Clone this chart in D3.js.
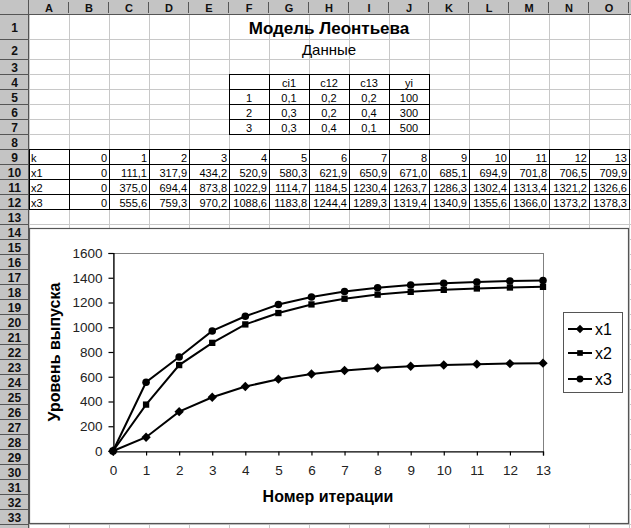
<!DOCTYPE html>
<html><head><meta charset="utf-8">
<script src="https://cdn.jsdelivr.net/npm/d3@7"></script>
<style>html,body{margin:0;padding:0;background:#fff;overflow:hidden}svg{display:block}text{font-family:Arial,"Liberation Sans",sans-serif}</style>
</head><body>
<script>
// ---- data ----
const title = "Модель Леонтьева";
const subtitle = "Данные";
const colLetters = ["A","B","C","D","E","F","G","H","I","J","K","L","M","N","O"];
const coefHeaders = ["ci1","c12","c13","yi"];
const branchNo = [1,2,3];
const ci1 = [0.1,0.3,0.3];
const c12 = [0.2,0.2,0.4];
const c13 = [0.2,0.4,0.1];
const yi = [100,300,500];
const k = [0,1,2,3,4,5,6,7,8,9,10,11,12,13];
const x1 = [0,111.1,317.9,434.2,520.9,580.3,621.9,650.9,671.0,685.1,694.9,701.8,706.5,709.9];
const x2 = [0,375.0,694.4,873.8,1022.9,1114.7,1184.5,1230.4,1263.7,1286.3,1302.4,1313.4,1321.2,1326.6];
const x3 = [0,555.6,759.3,970.2,1088.6,1183.8,1244.4,1289.3,1319.4,1340.9,1355.6,1366.0,1373.2,1378.3];
const seriesNames = ["x1","x2","x3"];
const yTicks = [0,200,400,600,800,1000,1200,1400,1600];
const xTitle = "Номер итерации";
const yTitle = "Уровень выпуска";

// ---- layout ----
const W = 631, H = 528;
const rowHdrW = 29, colW = 40, colHdrH = 15;
const rowH = n => n === 1 ? 25 : n === 2 ? 20 : 15;
const rowTop = n => { let y = colHdrH; for (let i = 1; i < n; i++) y += rowH(i); return y; };
const colLeft = c => rowHdrW + c * colW;
const nRows = 34, nLabeledRows = 33;

const loc = d3.formatLocale({decimal: ",", thousands: "", grouping: [3], currency: ["", ""]});
const f1 = loc.format(".1f");

const svg = d3.select("body").append("svg").attr("width", W).attr("height", H);

// grid lines
const g = svg.append("g");
for (let c = 0; c <= 15; c++)
  g.append("line").attr("x1", colLeft(c)+0.5).attr("x2", colLeft(c)+0.5).attr("y1", colHdrH).attr("y2", H).attr("stroke", "#c8c8c8");
for (let r = 1; r <= nRows; r++)
  g.append("line").attr("x1", rowHdrW).attr("x2", W).attr("y1", rowTop(r)+rowH(r)-0.5).attr("y2", rowTop(r)+rowH(r)-0.5).attr("stroke", "#c8c8c8");

// headers
svg.append("rect").attr("x", 0).attr("y", 0).attr("width", W).attr("height", colHdrH).attr("fill", "#c4c4c4");
svg.append("rect").attr("x", 0).attr("y", 0).attr("width", rowHdrW).attr("height", H).attr("fill", "#c4c4c4");
colLetters.forEach((L, i) => {
  svg.append("line").attr("x1", colLeft(i+1)-0.5).attr("x2", colLeft(i+1)-0.5).attr("y1", 2).attr("y2", colHdrH-2).attr("stroke", "#555");
  svg.append("text").attr("x", colLeft(i) + colW/2).attr("y", colHdrH/2 + 4).attr("text-anchor", "middle")
    .attr("font-size", 11).attr("font-weight", "bold").attr("fill", "#111").text(L);
});
svg.append("line").attr("x1", rowHdrW-0.5).attr("x2", rowHdrW-0.5).attr("y1", 0).attr("y2", H).attr("stroke", "#555");
svg.append("line").attr("x1", 0).attr("x2", W).attr("y1", colHdrH-0.5).attr("y2", colHdrH-0.5).attr("stroke", "#555");
for (let r = 1; r <= nRows; r++) {
  const t = rowTop(r), h = rowH(r);
  svg.append("line").attr("x1", 0).attr("x2", rowHdrW).attr("y1", t+h-0.5).attr("y2", t+h-0.5).attr("stroke", "#555");
  if (r <= nLabeledRows)
    svg.append("text").attr("x", rowHdrW/2).attr("y", t + h/2 + 4.5).attr("text-anchor", "middle")
      .attr("font-size", 12).attr("font-weight", "bold").attr("fill", "#111").text(r);
}

// cell helper
function cell(col, row, txt, align) {
  const x0 = colLeft(col), t = rowTop(row), h = rowH(row);
  const x = align === "left" ? x0 + 2 : align === "center" ? x0 + colW/2 : x0 + colW - 2;
  svg.append("text").attr("x", x).attr("y", t + h/2 + 4).attr("font-size", 11)
    .attr("text-anchor", align === "left" ? "start" : align === "center" ? "middle" : "end").attr("fill", "#000").text(txt);
}
// title
svg.append("text").attr("x", colLeft(5) + 2.5*colW).attr("y", rowTop(1) + 19).attr("text-anchor", "middle")
  .attr("font-size", 17).attr("font-weight", "bold").text(title);
svg.append("text").attr("x", colLeft(5) + 2.5*colW).attr("y", rowTop(2) + 15).attr("text-anchor", "middle")
  .attr("font-size", 15).text(subtitle);

// coefficient table F4:J7
const coefCols = [ci1, c12, c13, yi];
coefHeaders.forEach((hd, i) => cell(6+i, 4, hd, "center"));
branchNo.forEach((b, j) => {
  cell(5, 5+j, b, "center");
  coefCols.forEach((arr, i) => cell(6+i, 5+j, i < 3 ? loc.format(".1f")(arr[j]) : arr[j], "center"));
});
function box(c0, c1, r0, r1) {
  for (let c = c0; c <= c1+1; c++)
    svg.append("line").attr("x1", colLeft(c)+0.5).attr("x2", colLeft(c)+0.5).attr("y1", rowTop(r0)).attr("y2", rowTop(r1+1)).attr("stroke", "#000");
  for (let r = r0; r <= r1+1; r++)
    svg.append("line").attr("x1", colLeft(c0)).attr("x2", colLeft(c1+1)+1).attr("y1", rowTop(r)-0.5).attr("y2", rowTop(r)-0.5).attr("stroke", "#000");
}
box(5, 9, 4, 7);

// iteration table A9:O12
cell(0, 9, "k", "left");
k.forEach((v, i) => cell(1+i, 9, v, "right"));
[x1, x2, x3].forEach((arr, j) => {
  cell(0, 10+j, seriesNames[j], "left");
  arr.forEach((v, i) => cell(1+i, 10+j, i === 0 ? "0" : f1(v), "right"));
});
box(0, 14, 9, 12);

// ---- chart ----
const cx0 = 29, cy0 = 228, cx1 = 628, cy1 = 523;
svg.append("rect").attr("x", cx0+0.5).attr("y", cy0+0.5).attr("width", cx1-cx0).attr("height", cy1-cy0)
  .attr("fill", "#fff").attr("stroke", "#555").attr("stroke-width", 1.2);

const px0 = 113, px1 = 543, py0 = 451, py1 = 253;
const xs = d3.scaleLinear().domain([0, 13]).range([px0, px1]);
const ys = d3.scaleLinear().domain([0, 1600]).range([py0, py1]);

svg.append("rect").attr("x", px0+0.5).attr("y", py1+0.5).attr("width", px1-px0).attr("height", py0-py1)
  .attr("fill", "#fff").attr("stroke", "#808080");

const yAxis = svg.append("g").attr("transform", `translate(${px0+0.5},0)`)
  .call(d3.axisLeft(ys).tickValues(yTicks).tickSize(5).tickPadding(6).tickFormat(d3.format("d")));
const xAxis = svg.append("g").attr("transform", `translate(0,${py0+0.5})`)
  .call(d3.axisBottom(xs).tickValues(k).tickSize(4).tickPadding(10).tickFormat(d3.format("d")));
[yAxis, xAxis].forEach(a => {
  a.selectAll("path,line").attr("stroke", "#000").attr("stroke-width", 1.2);
  a.selectAll("text").attr("font-size", 13.5).attr("fill", "#222").attr("font-family", "Arial, 'Liberation Sans', sans-serif");
});

svg.append("text").attr("transform", `translate(60,${(py0+py1)/2}) rotate(-90)`).attr("text-anchor", "middle")
  .attr("font-size", 16).attr("font-weight", "bold").text(yTitle);
svg.append("text").attr("x", (px0+px1)/2).attr("y", 502).attr("text-anchor", "middle")
  .attr("font-size", 16).attr("font-weight", "bold").text(xTitle);

const symbols = [d3.symbolDiamond2, d3.symbolSquare, d3.symbolCircle];
const symSize = [56, 40, 45];
const line = d3.line().x((d, i) => xs(k[i])).y(d => ys(d));
[x1, x2, x3].forEach((arr, j) => {
  svg.append("path").attr("d", line(arr)).attr("fill", "none").attr("stroke", "#000").attr("stroke-width", 2);
  svg.append("g").selectAll("path").data(arr).join("path")
    .attr("transform", (d, i) => `translate(${xs(k[i])},${ys(d)})`)
    .attr("d", d3.symbol(symbols[j], symSize[j])).attr("fill", "#000");
});

// legend
const lx0 = 563, ly0 = 312;
svg.append("rect").attr("x", lx0+0.5).attr("y", ly0+0.5).attr("width", 59).attr("height", 80)
  .attr("fill", "#fff").attr("stroke", "#555");
const legY = [329, 353, 379];
seriesNames.forEach((nm, j) => {
  svg.append("line").attr("x1", 568).attr("x2", 592).attr("y1", legY[j]).attr("y2", legY[j]).attr("stroke", "#000").attr("stroke-width", 2);
  svg.append("path").attr("transform", `translate(580,${legY[j]})`).attr("d", d3.symbol(symbols[j], symSize[j] * 0.8)).attr("fill", "#000");
  svg.append("text").attr("x", 595).attr("y", legY[j] + 6).attr("font-size", 16).text(nm);
});
</script>
</body></html>
